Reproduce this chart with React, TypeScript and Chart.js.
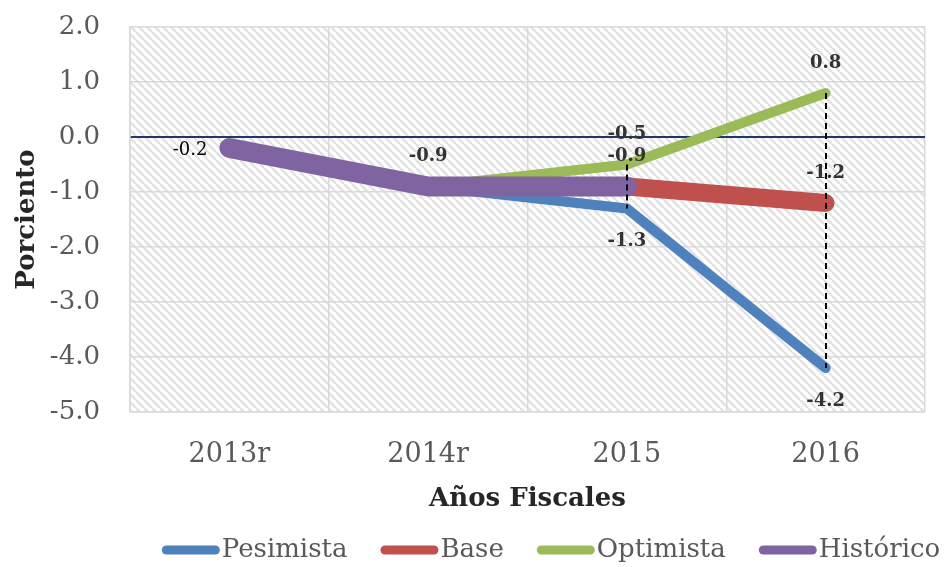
import React, { useEffect, useRef } from 'react';
import { Chart, registerables } from 'chart.js';

Chart.register(...registerables);

const categories = ['2013r', '2014r', '2015', '2016'];
const seriesNames = ['Pesimista', 'Base', 'Optimista', 'Histórico'];
const pesimista = [null, -0.9, -1.3, -4.2];
const base = [null, null, -0.9, -1.2];
const optimista = [null, -0.9, -0.5, 0.8];
const historico = [-0.2, -0.9, -0.9, null];
const yMin = -5;
const yMax = 2;
const yStep = 1;

// where each point's value label goes ('' = none)
const pesimistaLabelPos = ['', '', 'below', 'below'];
const baseLabelPos = ['', '', '', 'above'];
const optimistaLabelPos = ['', '', 'above', 'above'];
const historicoLabelPos = ['left', 'above', 'above', ''];
const dropLineCategories = ['2015', '2016'];

const FONT = "'DejaVu Serif', serif";
const colors = ['#4f81bd', '#c0504d', '#9bbb59', '#8064a2'];
const widths = [10, 18, 10, 20];
const orders = [2, 1, 3, 0];
const labelPositions = [pesimistaLabelPos, baseLabelPos, optimistaLabelPos, historicoLabelPos];
const seriesData = [pesimista, base, optimista, historico];

const hatchPlugin = {
  id: 'hatch',
  beforeDraw(chart: any) {
    const { ctx, chartArea: a } = chart;
    const s = 8;
    const tile = document.createElement('canvas');
    tile.width = s;
    tile.height = s;
    const t = tile.getContext('2d')!;
    t.fillStyle = '#ffffff';
    t.fillRect(0, 0, s, s);
    t.strokeStyle = '#e2e2e2';
    t.lineWidth = 2.5;
    for (const k of [-s, 0, s]) {
      t.beginPath();
      t.moveTo(k, 0);
      t.lineTo(k + s, s);
      t.stroke();
    }
    const pat = ctx.createPattern(tile, 'repeat');
    ctx.save();
    ctx.fillStyle = pat;
    ctx.fillRect(a.left, a.top, a.right - a.left, a.bottom - a.top);
    ctx.restore();
  },
};

const dropLinePlugin = {
  id: 'dropLines',
  afterDatasetsDraw(chart: any) {
    const { ctx, scales } = chart;
    ctx.save();
    ctx.strokeStyle = '#000000';
    ctx.lineWidth = 2;
    ctx.setLineDash([6, 4]);
    for (const cat of dropLineCategories) {
      const i = categories.indexOf(cat);
      const vals = chart.data.datasets
        .map((d: any) => d.data[i])
        .filter((v: any) => v !== null && v !== undefined);
      if (!vals.length) continue;
      const x = Math.round(scales.x.getPixelForValue(i));
      const y1 = scales.y.getPixelForValue(Math.max(...vals));
      const y2 = scales.y.getPixelForValue(Math.min(...vals));
      ctx.beginPath();
      ctx.moveTo(x, y1);
      ctx.lineTo(x, y2);
      ctx.stroke();
    }
    ctx.restore();
  },
};

const valueLabelPlugin = {
  id: 'valueLabels',
  afterDatasetsDraw(chart: any) {
    const { ctx } = chart;
    ctx.save();
    chart.data.datasets.forEach((d: any, di: number) => {
      const meta = chart.getDatasetMeta(di);
      const pos = d.labelPos as string[];
      d.data.forEach((v: any, i: number) => {
        if (v === null || !pos[i]) return;
        const pt = meta.data[i];
        const text = v.toFixed(1);
        ctx.textBaseline = 'middle';
        if (pos[i] === 'left') {
          ctx.font = `18px ${FONT}`;
          ctx.fillStyle = '#000000';
          ctx.textAlign = 'right';
          ctx.fillText(text, pt.x - 22, pt.y + 2);
        } else {
          ctx.font = `bold 18px ${FONT}`;
          ctx.fillStyle = '#333333';
          ctx.textAlign = 'center';
          ctx.fillText(text, pt.x, pos[i] === 'above' ? pt.y - 30 : pt.y + 33);
        }
      });
    });
    ctx.restore();
  },
};

const legendPlugin = {
  id: 'bottomLegend',
  afterDraw(chart: any) {
    const { ctx } = chart;
    ctx.save();
    ctx.font = `26px ${FONT}`;
    const sw = 58;
    const gap = 2;
    const between = 33;
    const items = chart.data.datasets.map((d: any) => ({
      text: d.label,
      color: d.borderColor,
      w: ctx.measureText(d.label).width,
    }));
    const total =
      items.reduce((s: number, it: any) => s + sw + gap + it.w, 0) + between * (items.length - 1);
    let x = 551 - total / 2;
    const y = chart.height - 17;
    for (const it of items) {
      ctx.strokeStyle = it.color;
      ctx.lineWidth = 9;
      ctx.lineCap = 'round';
      ctx.beginPath();
      ctx.moveTo(x + 4.5, y);
      ctx.lineTo(x + sw - 4.5, y);
      ctx.stroke();
      ctx.fillStyle = '#595959';
      ctx.textAlign = 'left';
      ctx.textBaseline = 'middle';
      ctx.fillText(it.text, x + sw + gap, y);
      x += sw + gap + it.w + between;
    }
    ctx.restore();
  },
};

export default function App() {
  const ref = useRef<HTMLCanvasElement>(null);
  useEffect(() => {
    const chart = new Chart(ref.current!, {
      type: 'line',
      data: {
        labels: categories,
        datasets: seriesNames.map((name, k) => ({
          label: name,
          data: seriesData[k],
          borderColor: colors[k],
          backgroundColor: colors[k],
          borderWidth: widths[k],
          borderCapStyle: 'round',
          borderJoinStyle: 'round',
          pointRadius: 0,
          pointHoverRadius: 0,
          order: orders[k],
          labelPos: labelPositions[k],
        })) as any,
      },
      options: {
        responsive: false,
        animation: false,
        layout: { padding: { left: 0, right: 24, top: 27, bottom: 47 } },
        plugins: { legend: { display: false }, tooltip: { enabled: false } },
        scales: {
          x: {
            offset: true,
            grid: { offset: true, color: '#d9d9d9', lineWidth: 1.5, drawTicks: false },
            border: { color: '#d9d9d9', width: 1.5 },
            ticks: { color: '#595959', font: { family: FONT, size: 27 }, padding: 27 },
            title: {
              display: true,
              text: 'Años Fiscales',
              color: '#262626',
              font: { family: FONT, size: 26, weight: 'bold' },
              padding: { top: 14, bottom: 5 },
            },
            afterFit: (s: any) => {
              s.height = 108;
            },
          },
          y: {
            min: yMin,
            max: yMax,
            grid: {
              color: (c: any) => (c.tick && c.tick.value === 0 ? '#1f3864' : '#d9d9d9'),
              lineWidth: (c: any) => (c.tick && c.tick.value === 0 ? 2 : 1.5),
              drawTicks: false,
            },
            border: { color: '#d9d9d9', width: 1.5 },
            ticks: {
              stepSize: yStep,
              color: '#595959',
              font: { family: FONT, size: 26 },
              padding: 30,
              callback: (v: any) => Number(v).toFixed(1),
            },
            title: {
              display: true,
              text: 'Porciento',
              color: '#262626',
              font: { family: FONT, size: 26, weight: 'bold' },
              padding: { top: 12, bottom: 7 },
            },
            afterFit: (s: any) => {
              s.width = 130;
              s.paddingTop = 0;
              s.paddingBottom = 0;
            },
          },
        },
      },
      plugins: [hatchPlugin, dropLinePlugin, valueLabelPlugin, legendPlugin],
    });
    return () => chart.destroy();
  }, []);
  return (
    <div style={{ position: 'fixed', left: 0, top: 0, width: 949, height: 567, background: '#fff' }}>
      <canvas ref={ref} width={949} height={567} style={{ display: 'block' }} />
    </div>
  );
}
